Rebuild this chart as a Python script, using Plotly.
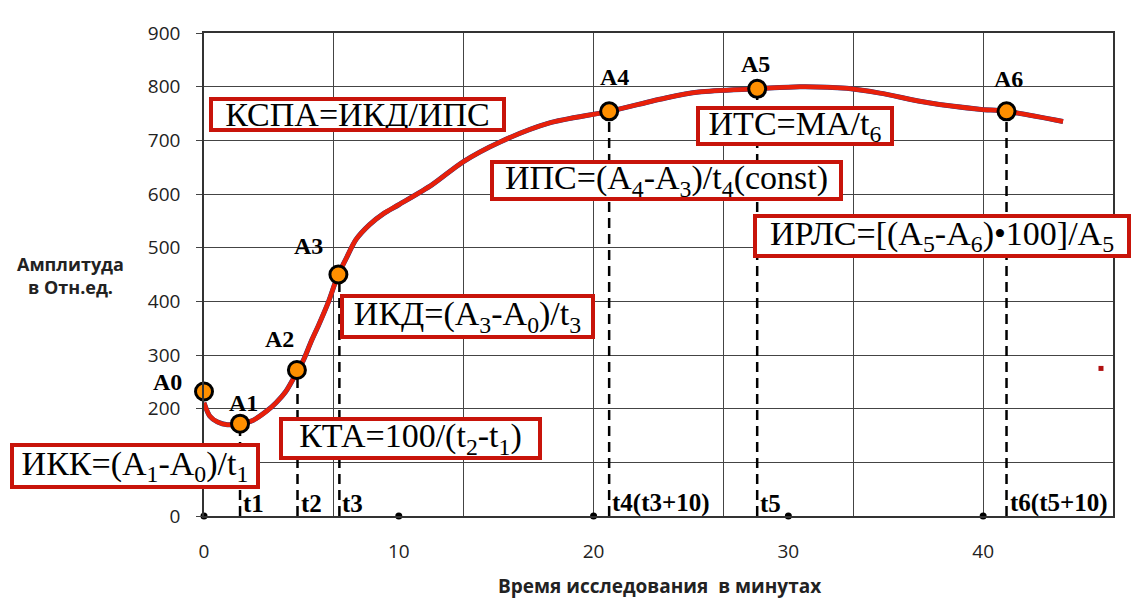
import plotly.graph_objects as go

# ---- data ----
curve_x = [0, 0.3, 0.7, 1.2, 1.85, 2.5, 3.2, 3.7, 4.2, 4.77, 5.1, 5.5, 5.9, 6.4, 6.87, 7.3, 7.8,
           8.5, 9.2, 10, 11.7, 13.3, 15.2, 17.7, 20.8, 23.7, 25.4, 28.4, 30.6, 33, 34.7, 37.2,
           39.8, 41.2, 44.1]
curve_y = [211, 186, 175, 170, 172, 178, 195, 211, 232, 268, 290, 325, 357, 400, 448, 480, 515,
           543, 563, 580, 617, 660, 697, 732, 754, 779, 790, 796, 800, 797, 788, 770,
           758, 754, 735]

point_names = ["A0", "A1", "A2", "A3", "A4", "A5", "A6"]
point_x = [0, 1.85, 4.77, 6.9, 20.8, 28.4, 41.2]
point_y = [232, 172, 272, 450, 754, 796, 754]
label_shift = [(-37, 9), (3, 21), (-17, 31), (-30, 29), (5, 34), (-2, 25), (2, 32)]

t_names = ["t1", "t2", "t3", "t4(t3+10)", "t5", "t6(t5+10)"]
t_x = [1.85, 4.8, 6.95, 20.8, 28.4, 41.2]
t_top = [172, 272, 450, 754, 796, 754]

x_ticks = [0, 10, 20, 30, 40]
y_ticks = [0, 100, 200, 300, 400, 500, 600, 700, 800, 900]
x_grid = [0, 20/3, 40/3, 20, 80/3, 100/3, 40, 140/3]

stray_x = [46.05]
stray_y = [275]

# text, anchor x (data), anchor y (data), x pixel shift, box width, box height
formulas = [
    ("КСПА=ИКД/ИПС", 0.26, 748, 0, 297, 35),
    ("ИКК=(A<sub>1</sub>-A<sub>0</sub>)/t<sub>1</sub>", 0, 93, -194, 250, 46),
    ("КТА=100/(t<sub>2</sub>-t<sub>1</sub>)", 3.85, 145, 0, 263, 43),
    ("ИКД=(A<sub>3</sub>-A<sub>0</sub>)/t<sub>3</sub>", 6.97, 371, 0, 255, 45),
    ("ИПС=(A<sub>4</sub>-A<sub>3</sub>)/t<sub>4</sub>(const)", 14.67, 626, 0, 353, 41),
    ("ИТС=MA/t<sub>6</sub>", 25.28, 727, 0, 198, 40),
    ("ИРЛС=[(A<sub>5</sub>-A<sub>6</sub>)•100]/A<sub>5</sub>", 28.2, 521, 0, 378, 44),
]

fig = go.Figure()

# dashed verticals
for tx, top in zip(t_x, t_top):
    fig.add_trace(go.Scatter(x=[tx, tx], y=[0, top], mode="lines",
                             line=dict(color="black", width=2.5, dash="10px,6px"),
                             hoverinfo="skip", showlegend=False))

# main curve
fig.add_trace(go.Scatter(x=curve_x, y=curve_y, mode="lines",
                         line=dict(color="#1F3A8A", width=5, shape="spline", smoothing=0.8),
                         showlegend=False))
fig.add_trace(go.Scatter(x=curve_x, y=curve_y, mode="lines",
                         line=dict(color="#E8200A", width=4.5, shape="spline", smoothing=0.8),
                         showlegend=False))

# axis dots
fig.add_trace(go.Scatter(x=x_ticks, y=[0] * len(x_ticks), mode="markers",
                         marker=dict(color="black", size=7), cliponaxis=False, showlegend=False))

# stray point
fig.add_trace(go.Scatter(x=stray_x, y=stray_y, mode="markers",
                         marker=dict(color="#B01010", size=5, symbol="square"), showlegend=False))

# key points
fig.add_trace(go.Scatter(x=point_x, y=point_y, mode="markers",
                         marker=dict(color="#FF8F00", size=17, line=dict(color="black", width=3)),
                         cliponaxis=False, showlegend=False))

ann = []
for n, px, py, (dx, dy) in zip(point_names, point_x, point_y, label_shift):
    ann.append(dict(x=px, y=py, xref="x", yref="y", text=n, showarrow=False,
                    xshift=dx, yshift=dy,
                    font=dict(family="Liberation Serif", size=24, color="black", weight="bold")))
for n, tx in zip(t_names, t_x):
    ann.append(dict(x=tx, y=0, xref="x", yref="y", text=n, showarrow=False,
                    xanchor="left", yanchor="bottom", xshift=1, yshift=-3,
                    font=dict(family="Liberation Serif", size=25, color="black", weight="bold")))
for txt, fx, fy, sx, w, h in formulas:
    ann.append(dict(x=fx, y=fy, xref="x", yref="y", text=txt, showarrow=False,
                    xanchor="left", yanchor="middle", xshift=sx, width=w - 8, height=h - 8,
                    align="center", valign="middle",
                    bgcolor="white", bordercolor="#C8140A", borderwidth=4, borderpad=0,
                    font=dict(family="Liberation Serif", size=34, color="black")))

PL, PT, PW, PH = 196, 14, 909, 494  # plot area in figure pixels
ann.append(dict(xref="x domain", yref="y domain", x=(62 - PL) / PW, y=(508 - 262) / PH,
                xanchor="center", yanchor="middle",
                text="<b>Амплитуда<br>в Отн.ед.</b>", showarrow=False, align="center",
                font=dict(family="Open Sans", size=18, color="#222")))
ann.append(dict(xref="x domain", yref="y domain", x=(651 - PL) / PW, y=(508 - 580) / PH,
                xanchor="center", yanchor="middle",
                text="<b>Время исследования  в минутах</b>", showarrow=False,
                font=dict(family="Open Sans", size=19, color="#222")))

fig.update_layout(
    width=1131, height=591, autosize=False,
    margin=dict(l=196, r=26, t=14, b=83),
    plot_bgcolor="white", paper_bgcolor="white",
    annotations=ann,
    xaxis=dict(range=[0, 140/3], tickmode="array", tickvals=x_ticks, ticks="",
               showgrid=False, zeroline=False, showline=True, linecolor="#333", linewidth=1.5,
               mirror=True, ticklabelstandoff=17,
               tickfont=dict(family="Open Sans", size=19, color="#222"),
               minor=dict(tickmode="array", tickvals=x_grid, showgrid=True,
                          gridcolor="#444", gridwidth=1.2, ticks="")),
    yaxis=dict(range=[0, 900], tickmode="array", tickvals=y_ticks, ticks="outside",
               ticklen=6, tickcolor="#444", showgrid=True, gridcolor="#444", gridwidth=1.2,
               zeroline=False, showline=True, linecolor="#333", linewidth=1.5, mirror=True,
               ticklabelstandoff=12,
               tickfont=dict(family="Open Sans", size=19, color="#222")),
)

fig.write_html("out.html")
